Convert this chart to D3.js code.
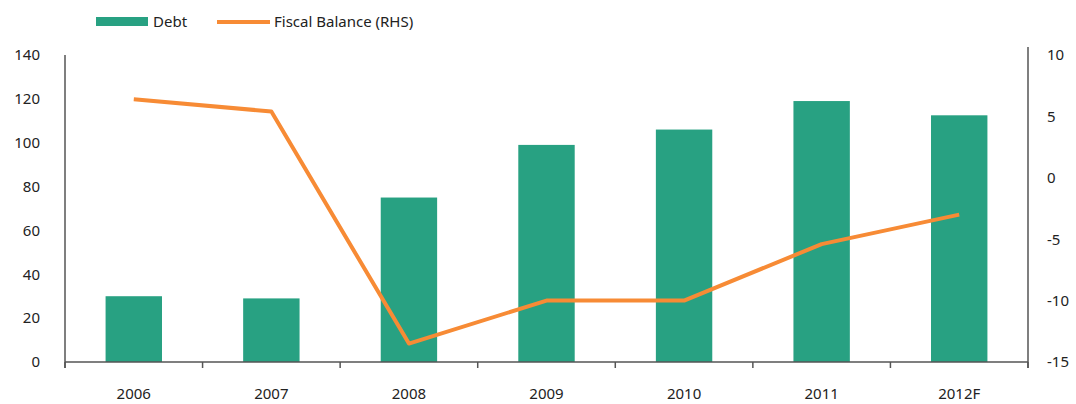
<!DOCTYPE html>
<meta charset="utf-8">
<style>
body { margin:0; background:#fff; font-family:"Noto Sans", "Open Sans", sans-serif; }
.axis text { font-size:15px; fill:#222; }
.axis path, .axis line { stroke:#555; stroke-width:1.5px; }
.legend text { font-size:15px; fill:#222; }
</style>
<svg width="1076" height="404"></svg>
<script src="https://d3js.org/d3.v7.min.js"></script>
<script>

var years = ["2006", "2007", "2008", "2009", "2010", "2011", "2012F"];
var debt = [30, 29, 75, 99, 106, 119, 112.5];
var fiscalBalance = [6.4, 5.4, -13.5, -10, -10, -5.4, -3];
var leftTicks = [0, 20, 40, 60, 80, 100, 120, 140];
var rightTicks = [-15, -10, -5, 0, 5, 10];

var svg = d3.select("svg"),
    margin = {top: 55, right: 48, bottom: 42, left: 65},
    width = 1076 - margin.left - margin.right,
    height = 404 - margin.top - margin.bottom;

var g = svg.append("g").attr("transform", "translate(" + margin.left + "," + margin.top + ")");

var x = d3.scaleBand().domain(years).range([0, width]).paddingInner(0.59).paddingOuter(0.295);
var xStep = d3.scalePoint().domain(d3.range(years.length + 1)).range([0, width]);
var yL = d3.scaleLinear().domain([0, 140]).range([height, 0]);
var yR = d3.scaleLinear().domain([-15, 10]).range([height, 0]);

// bars
g.selectAll(".bar")
  .data(debt)
  .enter().append("rect")
    .attr("class", "bar")
    .attr("x", function(d, i) { return x(years[i]); })
    .attr("y", function(d) { return yL(d); })
    .attr("width", x.bandwidth())
    .attr("height", function(d) { return height - yL(d); })
    .attr("fill", "#28a182");

// line
var line = d3.line()
    .x(function(d, i) { return x(years[i]) + x.bandwidth() / 2; })
    .y(function(d) { return yR(d); });

g.append("path")
    .datum(fiscalBalance)
    .attr("fill", "none")
    .attr("stroke", "#f78b35")
    .attr("stroke-width", 4)
    .attr("stroke-linejoin", "round")
    .attr("d", line);

// x axis with ticks between categories
var xAxis = g.append("g").attr("class", "axis")
    .attr("transform", "translate(0," + height + ")");
xAxis.append("line").attr("x1", 0).attr("x2", width);
xAxis.selectAll(".tick")
  .data(d3.range(years.length + 1))
  .enter().append("line")
    .attr("x1", function(d) { return xStep(d); })
    .attr("x2", function(d) { return xStep(d); })
    .attr("y1", 0).attr("y2", 6);
xAxis.selectAll("text")
  .data(years)
  .enter().append("text")
    .attr("x", function(d) { return x(d) + x.bandwidth() / 2; })
    .attr("y", 37)
    .attr("text-anchor", "middle")
    .text(function(d) { return d; });

// left axis
g.append("g").attr("class", "axis")
    .call(d3.axisLeft(yL).tickValues(leftTicks).tickSize(0).tickPadding(25))
    .call(function(a) { a.select(".domain").attr("d", "M0,0V" + (height + 6)); });

// right axis
g.append("g").attr("class", "axis")
    .attr("transform", "translate(" + width + ",0)")
    .call(d3.axisRight(yR).tickValues(rightTicks).tickSize(0).tickPadding(19)
      .tickFormat(function(d) { return String(d); }))
    .call(function(a) { a.select(".domain").attr("d", "M0,-8V" + (height + 6)); });

g.selectAll(".axis").attr("font-family", null).attr("font-size", null);

// legend
var legend = svg.append("g").attr("class", "legend");
legend.append("rect").attr("x", 96).attr("y", 17).attr("width", 52).attr("height", 9).attr("fill", "#28a182");
legend.append("text").attr("x", 153).attr("y", 27).text("Debt");
legend.append("line").attr("x1", 217).attr("x2", 270).attr("y1", 22).attr("y2", 22)
    .attr("stroke", "#f78b35").attr("stroke-width", 4);
legend.append("text").attr("x", 274).attr("y", 27).text("Fiscal Balance (RHS)");

</script>
